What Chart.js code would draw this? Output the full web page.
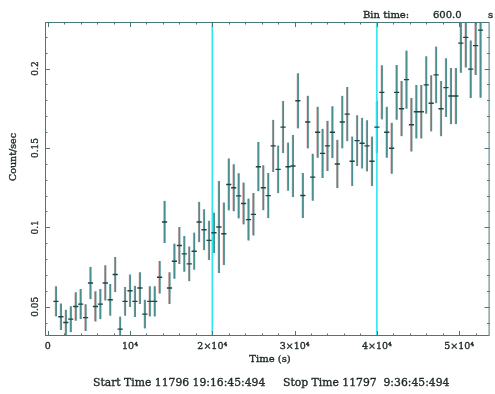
<!DOCTYPE html>
<html><head><meta charset="utf-8">
<script src="https://cdn.jsdelivr.net/npm/chart.js@4/dist/chart.umd.min.js"></script>
<style>html,body{margin:0;padding:0;background:#fff}#wrap{width:495px;height:394px;position:relative}</style>
</head><body><div id="wrap"><canvas id="c" width="495" height="394"></canvas></div>
<script>
// ---- data ----
const times = [1000,1600,2200,2800,3400,4000,4600,5200,5800,6400,7000,7600,8200,8800,9400,10000,10600,11200,11800,12400,
  13000,13600,14200,14800,15400,16000,16600,17200,17800,18400,19000,19600,20200,20800,21400,22000,22600,23200,23800,24400,
  25000,25600,26200,26800,27400,28000,28600,29200,29800,30400,31000,31600,32200,32800,33400,34000,34600,35200,35800,36400,
  37000,37600,38200,38800,39400,40000,40600,41200,41800,42400,43000,43600,44200,44800,45400,46000,46600,47200,47800,48400,
  49000,49600,50200,50800,51400,52000,52600];
const rates = [0.0534,0.0437,0.0401,0.0422,0.0502,0.0517,0.0432,0.0650,0.0502,0.0517,0.0650,0.0544,0.0703,0.0359,0.0534,
  0.0601,0.0534,0.0618,0.0454,0.0534,0.0534,0.0686,0.1034,0.0618,0.0787,0.0886,0.0833,0.0770,0.0850,0.1034,
  0.0985,0.0918,0.0966,0.1002,0.0960,0.1270,0.1249,0.1198,0.1150,0.1049,0.1082,0.1382,0.1249,0.1200,0.1513,
  0.1365,0.1631,0.1382,0.1386,0.1797,0.1201,0.1663,0.1316,0.1599,0.1466,0.1513,0.1599,0.1399,0.1663,0.1713,
  0.1416,0.1546,0.1530,0.1513,0.1416,0.1631,0.1850,0.1599,0.1498,0.1850,0.1747,0.1930,0.1646,0.1728,0.1728,
  0.1897,0.1781,0.1960,0.1747,0.1880,0.1827,0.1827,0.2160,0.2196,0.1996,0.2144,0.2242];
const errors = [0.0095,0.0084,0.0081,0.0082,0.0090,0.0095,0.0084,0.0102,0.0095,0.0095,0.0111,0.0100,0.0111,0.0080,0.0090,
  0.0103,0.0098,0.0100,0.0091,0.0095,0.0095,0.0103,0.0133,0.0100,0.0111,0.0116,0.0113,0.0110,0.0117,0.0127,
  0.0129,0.0124,0.0127,0.0290,0.0197,0.0164,0.0148,0.0142,0.0132,0.0132,0.0134,0.0155,0.0142,0.0142,0.0164,
  0.0150,0.0164,0.0152,0.0195,0.0174,0.0142,0.0166,0.0148,0.0161,0.0155,0.0158,0.0164,0.0153,0.0166,0.0171,
  0.0156,0.0160,0.0160,0.0161,0.0156,0.0165,0.0171,0.0161,0.0160,0.0173,0.0174,0.0183,0.0169,0.0169,0.0169,
  0.0181,0.0177,0.0179,0.0174,0.0185,0.0177,0.0177,0.0186,0.0190,0.0181,0.0185,0.0426];
const markerTimes = [20000, 40000];
const xTickValues = [0, 10000, 20000, 30000, 40000, 50000];
const xTickLabels = ['0', '10\u2074', '2\u00d710\u2074', '3\u00d710\u2074', '4\u00d710\u2074', '5\u00d710\u2074'];
const yTickValues = [0.05, 0.1, 0.15, 0.2];
const yTickLabels = ['0.05', '0.1', '0.15', '0.2'];
const xRange = [-330, 53700];
const yRange = [0.0316, 0.2293];
const xMinorStep = 2000;
const yMinorStep = 0.01;
const xTitle = 'Time (s)';
const yTitle = 'Count/sec';
const binLabel = 'Bin time:';
const binValue = '600.0';
const binUnit = 's';
const startText = 'Start Time 11796 19:16:45:494';
const stopText = 'Stop Time 11797  9:36:45:494';

// ---- styles ----
const TXT = '#1e2828';
const FRAME = '#4a7878';
const FONT = '"DejaVu Serif", serif';

function boldText(ctx, s, x, y) {
  ctx.fillText(s, x, y);
  ctx.strokeText(s, x, y);
}

const framePlugin = {
  id: 'framePlugin',
  afterDatasetsDraw(chart) {
    const {ctx, chartArea: a, scales: {x, y}} = chart;
    ctx.save();
    ctx.lineWidth = 1;
    ctx.strokeStyle = FRAME;
    ctx.strokeRect(a.left + 0.5, a.top + 0.5, a.right - a.left - 1, a.bottom - a.top - 1);
    ctx.beginPath();
    for (let v = 0; v <= xRange[1]; v += xMinorStep) {
      const px = Math.round(x.getPixelForValue(v)) + 0.5;
      const len = (v % 10000 === 0) ? 5 : 2.5;
      ctx.moveTo(px, a.bottom); ctx.lineTo(px, a.bottom - len);
      ctx.moveTo(px, a.top); ctx.lineTo(px, a.top + len);
    }
    for (let k = 4; k <= 22; k++) {
      const v = k * yMinorStep;
      const py = Math.round(y.getPixelForValue(v)) + 0.5;
      const len = (k % 5 === 0) ? 5 : 2.5;
      ctx.moveTo(a.left, py); ctx.lineTo(a.left + len, py);
      ctx.moveTo(a.right, py); ctx.lineTo(a.right - len, py);
    }
    ctx.stroke();

    ctx.fillStyle = TXT;
    ctx.strokeStyle = TXT;
    ctx.lineWidth = 0.35;
    // y tick labels (rotated)
    ctx.font = '9px ' + FONT;
    ctx.textAlign = 'center'; ctx.textBaseline = 'middle';
    yTickValues.forEach((v, i) => {
      const py = y.getPixelForValue(v);
      ctx.save(); ctx.translate(36, py); ctx.rotate(-Math.PI / 2);
      boldText(ctx, yTickLabels[i], 0, 0); ctx.restore();
    });
    // y title
    ctx.font = '9.5px ' + FONT;
    ctx.save(); ctx.translate(14, 157); ctx.rotate(-Math.PI / 2);
    boldText(ctx, yTitle, 0, 0); ctx.restore();
    // x title
    ctx.font = '10px ' + FONT;
    boldText(ctx, xTitle, 270, 359);
    // header
    ctx.textAlign = 'left';
    boldText(ctx, binLabel, 363, 15);
    boldText(ctx, binValue, 433, 15);
    boldText(ctx, binUnit, 488, 15);
    // footer
    ctx.font = '10.8px ' + FONT;
    boldText(ctx, startText, 93, 383);
    boldText(ctx, stopText, 283, 383);
    ctx.restore();
  }
};

const barData = times.map((t, i) => ({x: t, y: [rates[i] - errors[i], rates[i] + errors[i]]}));
const pointData = times.map((t, i) => ({x: t, y: rates[i]}));
const markerSets = markerTimes.map(t => ({
  type: 'line',
  data: [{x: t, y: yRange[0]}, {x: t, y: yRange[1]}],
  borderColor: '#2ee6ee', borderWidth: 1.6, pointRadius: 0, order: 1, clip: 0
}));

new Chart(document.getElementById('c'), {
  type: 'scatter',
  data: {
    datasets: [
      { type: 'scatter', data: pointData, pointStyle: 'line', pointRadius: 2.6,
        borderColor: '#1d4545', borderWidth: 1.4, order: 0 },
      ...markerSets,
      { type: 'bar', data: barData, barThickness: 2.2, grouped: false,
        backgroundColor: '#4a9090', borderColor: '#eaa8a8',
        borderWidth: {left: 0.7, right: 0, top: 0, bottom: 0}, borderSkipped: false, order: 2 }
    ]
  },
  options: {
    responsive: false, animation: false, devicePixelRatio: 1,
    layout: {padding: {left: 45, top: 22, right: 3, bottom: 0}},
    plugins: {legend: {display: false}, tooltip: {enabled: false}, title: {display: false}},
    scales: {
      x: {
        type: 'linear', min: xRange[0], max: xRange[1], offset: false,
        grid: {display: false, drawTicks: false}, border: {display: false},
        afterFit: s => { s.height = 58; },
        afterBuildTicks: s => { s.ticks = xTickValues.map(v => ({value: v})); },
        ticks: {
          padding: 5, maxRotation: 0, autoSkip: false, color: TXT,
          textStrokeColor: TXT, textStrokeWidth: 0.35,
          font: {family: FONT, size: 9.5},
          callback: (v) => { const i = xTickValues.indexOf(v); return i >= 0 ? xTickLabels[i] : ''; }
        }
      },
      y: {
        type: 'linear', min: yRange[0], max: yRange[1],
        grid: {display: false, drawTicks: false}, border: {display: false},
        afterFit: s => { s.width = 0; },
        ticks: {display: false}
      }
    }
  },
  plugins: [framePlugin]
});
</script></body></html>
